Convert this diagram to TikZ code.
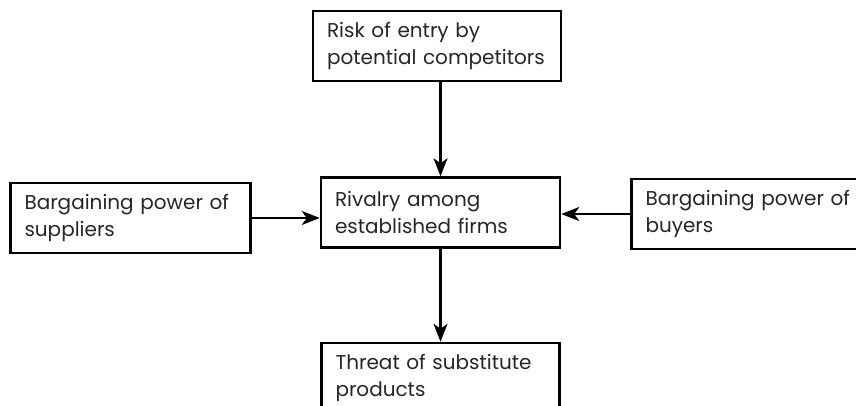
\documentclass[tikz,border=0pt]{standalone}
\usepackage{fontspec}
\setmainfont{Poppins}
\usepackage{tikz}
\usetikzlibrary{arrows.meta,positioning}

\begin{document}
\begin{tikzpicture}[x=1pt,y=-1pt,
force/.style={rectangle,draw,line width=2.5pt,inner xsep=14pt,inner ysep=0pt,
  minimum height=70pt,text width=#1-28pt,align=left,text=black!85,
  font=\fontsize{20}{27}\selectfont},
paths/.style={-{Stealth[length=18pt,width=14pt,inset=5pt]}, line width=2.2pt},
]
\useasboundingbox (0,0) rectangle (856,405);

\node [force=239pt] (Rival) at (440.5,212.5) {Rivalry among\\established firms};
\node [force=248pt] (Entry) [above=94pt of Rival, xshift=-3.5pt] {Risk of entry by\\potential competitors};
\node [force=240pt] (Supp) [left=68pt of Rival, yshift=-5.5pt] {Bargaining power of\\suppliers};
\node [force=240pt] (Buy) [right=69pt of Rival, yshift=-1.5pt] {Bargaining power of\\buyers};
\node [force=238pt] (Subst) [below=93pt of Rival] {Threat of substitute\\products};

\draw [paths] (Entry.south -| Rival.north) to (Rival.north);
\draw [paths] (Rival.south) to (Subst.north -| Rival.south);
\draw [paths] (Supp.east) to (Supp.east -| Rival.west);
\draw [paths] (Buy.west) to (Buy.west -| Rival.east);

\end{tikzpicture}
\end{document}
